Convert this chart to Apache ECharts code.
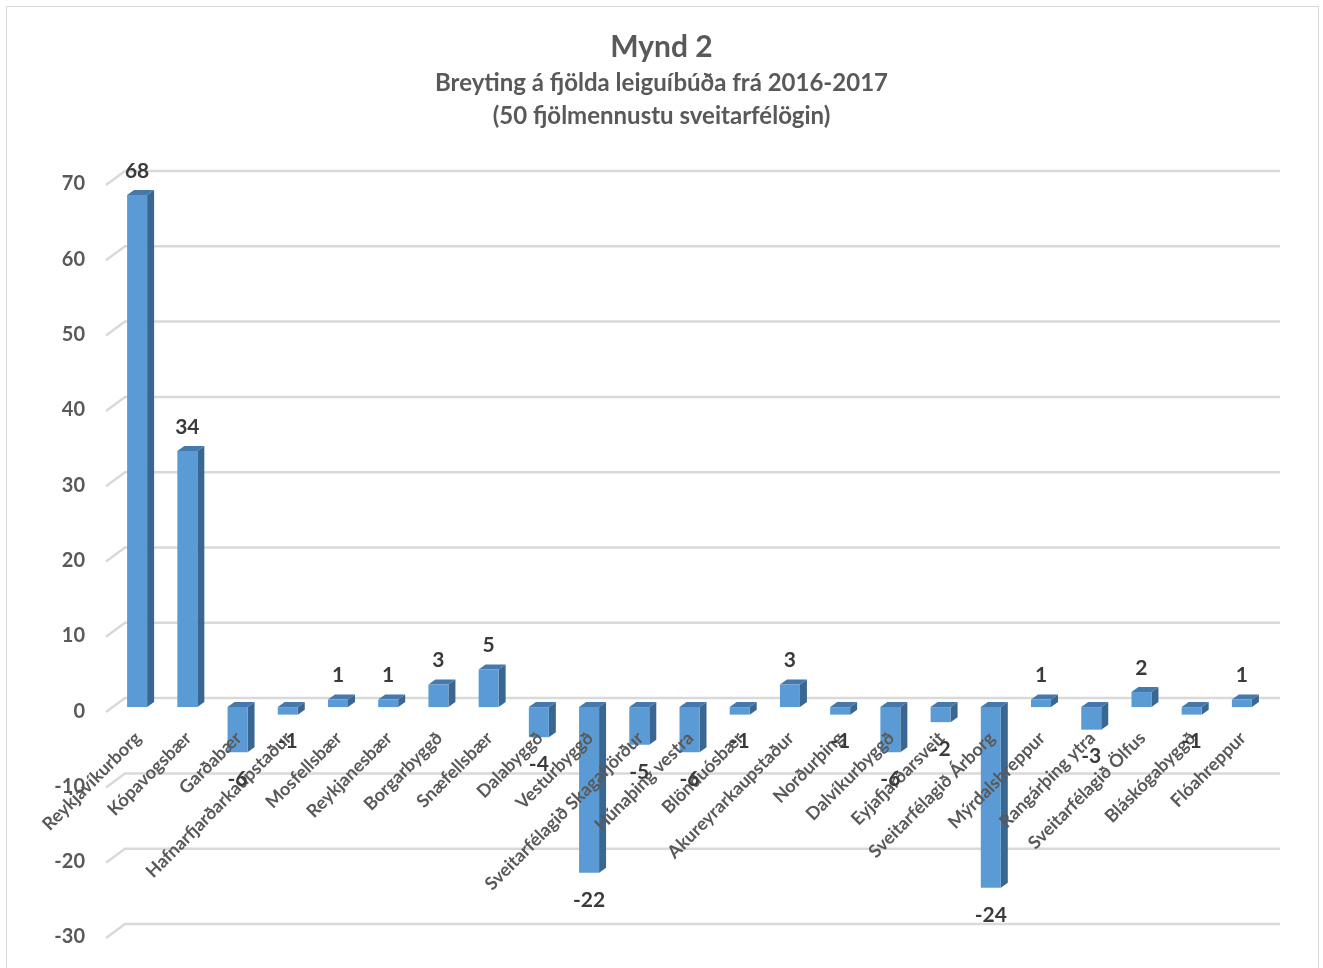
<!DOCTYPE html>
<html>
<head>
<meta charset="utf-8">
<script src="https://cdn.jsdelivr.net/npm/echarts@6/dist/echarts.min.js"></script>
<style>
  html, body { margin: 0; padding: 0; background: #ffffff; }
  #wrap { position: relative; width: 1323px; height: 968px; overflow: hidden; }
  #frame { position: absolute; left: 6px; top: 6px; width: 1313px; height: 980px; border: 1px solid #d9d9d9; box-sizing: border-box; }
  #chart { position: absolute; left: 0; top: 0; width: 1323px; height: 968px; }
</style>
</head>
<body>
<div id="wrap">
  <div id="frame"></div>
  <div id="chart"></div>
</div>
<script>
// Municipalities (50 largest), change in rental flats 2016-2017
const categories = [
  'Reykjavíkurborg', 'Kópavogsbær', 'Garðabær', 'Hafnarfjarðarkaupstaður',
  'Mosfellsbær', 'Reykjanesbær', 'Borgarbyggð', 'Snæfellsbær', 'Dalabyggð',
  'Vesturbyggð', 'Sveitarfélagið Skagafjörður', 'Húnaþing vestra', 'Blönduósbær',
  'Akureyrarkaupstaður', 'Norðurþing', 'Dalvíkurbyggð', 'Eyjafjarðarsveit',
  'Sveitarfélagið Árborg', 'Mýrdalshreppur', 'Rangárþing ytra',
  'Sveitarfélagið Ölfus', 'Bláskógabyggð', 'Flóahreppur'
];
const changes = [68, 34, -6, -1, 1, 1, 3, 5, -4, -22, -5, -6, -1, 3, -1, -6, -2, -24, 1, -3, 2, -1, 1];
const yTicks = [-30, -20, -10, 0, 10, 20, 30, 40, 50, 60, 70];

const FONT = 'Lato, "Open Sans", sans-serif';
const GRAY = '#595959';

// Back-wall gridline with its receding left segment, plus the tick label
function renderGridline(params, api) {
  const v = api.value(1);
  const y = api.coord([0, v])[1];
  const cs = params.coordSys;
  const l = cs.x, r = cs.x + cs.width;
  return {
    type: 'group',
    silent: true,
    children: [
      { type: 'polyline',
        shape: { points: [[l - 6, y + 5], [l + 13, y - 9], [r + 13, y - 9]] },
        style: { stroke: '#d9d9d9', lineWidth: 2.5, fill: null } },
      { type: 'text',
        style: { text: String(v), x: l - 27, y: y + 4, align: 'right', verticalAlign: 'middle',
                 font: 'bold 20px ' + FONT, fill: GRAY } }
    ]
  };
}

// Category names, rotated 45 degrees and hung just below the zero line
function renderCategory(params, api) {
  const i = api.value(0);
  const p0 = api.coord([i, 0]);
  return {
    type: 'text',
    silent: true,
    x: p0[0] + 1,
    y: p0[1] + 28,
    rotation: Math.PI / 4,
    style: {
      text: categories[i], x: 0, y: 0, align: 'right', verticalAlign: 'middle',
      font: 'bold 18px ' + FONT, fill: GRAY
    }
  };
}

// Pseudo-3D column: front face, right side and top face
function renderColumn(params, api) {
  const i = api.value(0), v = api.value(1);
  const p0 = api.coord([i, 0]);
  const p1 = api.coord([i, v]);
  const w = 20, dx = 7, dy = 5;
  const x1 = p0[0] - w / 2, x2 = p0[0] + w / 2;
  const yTop = Math.min(p0[1], p1[1]);
  const yBot = Math.max(p0[1], p1[1]);
  return {
    type: 'group',
    children: [
      { type: 'polygon', shape: { points: [[x2, yTop], [x2 + dx, yTop - dy], [x2 + dx, yBot - dy], [x2, yBot]] },
        style: { fill: '#3a6792' } },
      { type: 'polygon', shape: { points: [[x1, yTop], [x1 + dx, yTop - dy], [x2 + dx, yTop - dy], [x2, yTop]] },
        style: { fill: '#4578ab' } },
      { type: 'rect', shape: { x: x1, y: yTop, width: w, height: yBot - yTop },
        style: { fill: '#5b9bd5' } }
    ]
  };
}

// Value labels drawn on top of everything else
function renderValue(params, api) {
  const i = api.value(0), v = api.value(1);
  const p0 = api.coord([i, 0]);
  const p1 = api.coord([i, v]);
  const yTop = Math.min(p0[1], p1[1]);
  const yBot = Math.max(p0[1], p1[1]);
  return {
    type: 'text',
    silent: true,
    style: { text: String(v), x: p0[0], y: v > 0 ? yTop - 24 : yBot + 27,
             align: 'center', verticalAlign: 'middle',
             font: 'bold 21px ' + FONT, fill: '#3a3a3a' }
  };
}

const chart = echarts.init(document.getElementById('chart'));
chart.setOption({
  backgroundColor: 'transparent',
  animation: false,
  title: [
    { text: 'Mynd 2', left: 'center', top: 31, padding: 0,
      textStyle: { fontFamily: FONT, fontSize: 30, fontWeight: 'bold', color: GRAY, lineHeight: 32 } },
    { text: 'Breyting á fjölda leiguíbúða frá 2016-2017', left: 'center', top: 69, padding: 0,
      textStyle: { fontFamily: FONT, fontSize: 24, fontWeight: 'bold', color: GRAY, lineHeight: 28 } },
    { text: '(50 fjölmennustu sveitarfélögin)', left: 'center', top: 102, padding: 0,
      textStyle: { fontFamily: FONT, fontSize: 24, fontWeight: 'bold', color: GRAY, lineHeight: 28 } }
  ],
  grid: { left: 112, right: 56, top: 180, bottom: 35, containLabel: false, outerBoundsMode: 'none' },
  xAxis: {
    type: 'category',
    data: categories,
    axisLine: { show: false },
    axisTick: { show: false },
    splitLine: { show: false },
    axisLabel: { show: false }
  },
  yAxis: {
    type: 'value',
    min: -30, max: 70, interval: 10,
    axisLine: { show: false },
    axisTick: { show: false },
    splitLine: { show: false },
    axisLabel: { show: false }
  },
  series: [
    {
      type: 'custom',
      name: 'grid',
      renderItem: renderGridline,
      data: yTicks.map(v => [0, v]),
      z: 1,
      silent: true
    },
    {
      type: 'custom',
      name: 'Breyting',
      renderItem: renderColumn,
      data: changes.map((v, i) => [i, v]),
      z: 3
    },
    {
      type: 'custom',
      name: 'categories',
      renderItem: renderCategory,
      data: categories.map((c, i) => [i, 0]),
      z: 4,
      silent: true
    },
    {
      type: 'custom',
      name: 'values',
      renderItem: renderValue,
      data: changes.map((v, i) => [i, v]),
      z: 5,
      silent: true
    }
  ]
});
</script>
</body>
</html>
